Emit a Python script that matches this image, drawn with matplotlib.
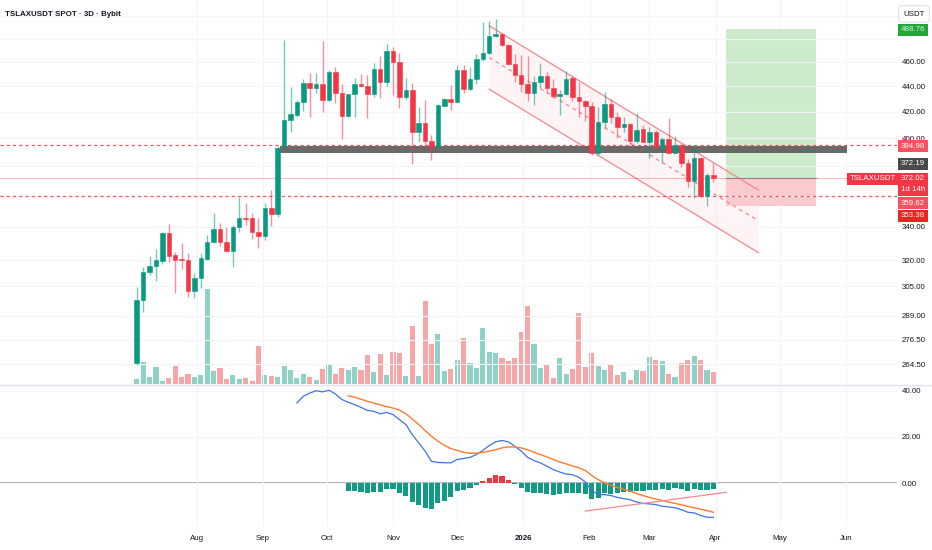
import numpy as np
import pandas as pd
import matplotlib
matplotlib.use('Agg')
import matplotlib.pyplot as plt
import matplotlib.dates as mdates
from matplotlib.ticker import FixedLocator, FixedFormatter, NullLocator
from matplotlib.transforms import blended_transform_factory
from matplotlib.lines import Line2D

plt.rcParams['font.family'] = 'Liberation Sans'

#%% data (3D candles, TSLAXUSDT spot)
start_date = '2025-07-04'

opens = [264.9, 297.2, 313.0, 316.4, 319.4, 336.1, 322.9, 320.5, 320.1, 302.4,
         309.8, 320.7, 330.7, 338.9, 330.5, 325.5, 340.2, 345.9, 345.9, 336.7,
         334.4, 352.3, 348.2, 394.6, 413.5, 417.5, 427.8, 442.7, 438.8, 441.5,
         429.1, 452.0, 434.8, 416.7, 433.8, 441.5, 440.1, 433.8, 453.9, 443.2,
         469.7, 460.3, 431.2, 437.0, 404.9, 411.2, 398.3, 394.3, 424.6, 429.6,
         427.3, 453.3, 437.8, 445.7, 462.5, 467.4, 482.5, 484.3, 474.6, 458.4,
         449.2, 441.7, 434.4, 443.7, 448.4, 438.4, 432.2, 433.6, 446.4, 431.7,
         428.5, 424.4, 389.6, 412.4, 425.7, 415.7, 408.6, 410.6, 398.3, 406.6,
         397.6, 404.9, 393.5, 399.5, 389.6, 395.1, 382.1, 370.1, 385.6, 359.8,
         374.0]
highs = [304.4, 315.8, 322.3, 326.6, 336.7, 341.8, 324.9, 329.9, 323.9, 312.6,
         324.4, 335.2, 348.6, 342.3, 340.2, 341.3, 359.3, 355.1, 349.1, 345.5,
         355.1, 363.8, 394.3, 479.0, 439.6, 429.1, 445.6, 450.6, 451.2, 478.4,
         453.3, 455.6, 441.7, 434.0, 446.4, 450.0, 449.2, 458.9, 465.1, 475.5,
         472.6, 468.0, 446.4, 442.7, 423.4, 429.1, 402.4, 425.7, 430.4, 441.0,
         457.3, 457.3, 455.6, 466.5, 494.8, 495.4, 497.6, 485.0, 475.0, 466.5,
         466.0, 465.0, 448.4, 458.9, 452.0, 445.7, 437.0, 452.8, 448.4, 443.7,
         429.0, 427.8, 423.9, 435.6, 429.6, 420.0, 416.2, 411.0, 419.2, 409.9,
         408.6, 406.0, 401.2, 414.9, 401.7, 396.0, 384.9, 395.1, 386.3, 375.0,
         382.5]
lows = [264.0, 291.1, 311.3, 307.9, 317.7, 319.1, 301.4, 315.0, 299.2, 298.3,
        303.8, 320.0, 330.0, 328.4, 325.0, 315.8, 337.0, 341.3, 332.6, 327.4,
        332.0, 340.9, 346.5, 394.0, 404.9, 416.2, 420.8, 415.7, 434.8, 420.0,
        428.0, 426.5, 399.3, 416.0, 415.7, 439.0, 414.9, 431.2, 430.4, 440.1,
        433.0, 422.6, 429.1, 381.6, 397.6, 392.7, 384.4, 393.0, 424.0, 421.3,
        427.0, 434.8, 437.0, 441.7, 461.0, 467.0, 481.9, 473.7, 457.6, 443.7,
        435.6, 428.5, 425.2, 438.4, 434.8, 431.0, 417.5, 433.0, 428.5, 415.7,
        413.2, 388.0, 388.0, 407.4, 411.7, 400.1, 404.9, 395.1, 396.4, 397.0,
        385.6, 392.7, 382.1, 389.0, 389.0, 379.3, 365.6, 358.3, 358.9, 353.4,
        369.4]
closes = [297.4, 313.0, 316.6, 319.9, 336.1, 322.6, 320.1, 319.8, 302.4, 309.8,
          321.1, 330.7, 338.9, 330.5, 325.5, 340.2, 345.9, 345.0, 336.7, 334.4,
          352.3, 348.2, 392.6, 413.5, 418.0, 427.8, 442.7, 438.8, 441.5, 429.1,
          452.0, 434.8, 416.7, 433.8, 441.5, 440.1, 433.8, 453.9, 443.2, 469.7,
          460.3, 431.2, 437.0, 404.9, 411.2, 398.3, 394.0, 425.2, 429.6, 427.5,
          453.3, 437.8, 445.7, 462.5, 467.4, 482.5, 484.3, 474.6, 458.4, 449.2,
          441.7, 434.4, 443.7, 448.4, 438.4, 432.2, 433.6, 445.7, 431.7, 428.5,
          424.4, 389.6, 412.4, 425.7, 415.7, 408.1, 410.4, 398.3, 406.1, 397.6,
          404.9, 393.5, 399.5, 389.6, 395.1, 382.1, 370.1, 385.6, 359.8, 374.0,
          372.0]
# volume in thousands
volume = [50, 217, 73, 173, 33, 60, 183, 67, 97, 73,
          90, 950, 130, 163, 50, 90, 53, 63, 30, 383,
          90, 83, 70, 180, 143, 63, 97, 70, 43, 153,
          200, 103, 163, 143, 170, 143, 287, 123, 303, 90,
          323, 310, 77, 580, 83, 833, 400, 500, 133, 150,
          243, 460, 213, 163, 560, 323, 307, 260, 233, 260,
          517, 783, 403, 160, 200, 57, 260, 103, 150, 713,
          170, 313, 180, 137, 193, 90, 123, 43, 143, 133,
          267, 240, 230, 103, 73, 213, 240, 280, 240, 143,
          120]

# MACD (12, 26, 9): line starts at bar 26, signal and histogram at bar 34
macd_line = [34.7, 37.6, 39.0, 40.0, 39.5, 40.2, 38.6, 36.2, 35.0, 34.0,
             32.8, 31.5, 31.1, 30.0, 30.6, 29.7, 27.5, 25.4, 21.0, 17.5,
             13.9, 9.5, 9.0, 8.9, 8.8, 10.3, 10.7, 11.2, 12.4, 14.2,
             16.3, 17.9, 18.5, 17.9, 16.0, 13.9, 11.2, 9.8, 8.8, 7.4,
             5.9, 4.9, 4.0, 3.7, 2.6, 0.6, -3.1, -4.9, -4.9, -5.3,
             -6.1, -6.6, -7.1, -8.1, -8.7, -8.9, -9.2, -9.9, -10.2, -10.6,
             -11.4, -12.5, -12.8, -13.9, -14.7, -14.7]
signal_line = [37.8, 37.2, 36.3, 35.4, 34.7, 33.9, 33.1, 32.5, 31.6, 30.0,
               27.8, 25.4, 22.8, 20.3, 18.2, 16.4, 15.0, 14.2, 13.4, 13.0,
               13.0, 13.3, 13.9, 14.5, 15.3, 15.7, 15.7, 15.3, 14.5, 13.4,
               12.4, 11.4, 10.3, 9.2, 8.4, 7.5, 6.7, 5.5, 3.4, 1.6,
               0.2, -0.9, -1.8, -2.6, -3.4, -4.4, -5.3, -6.1, -6.8, -7.4,
               -8.1, -8.7, -9.3, -10.0, -10.6, -11.2, -11.8, -12.5]
histogram = [-3.4, -3.4, -3.6, -4.3, -3.6, -3.9, -2.3, -2.5, -4.4, -5.3,
             -8.1, -9.3, -10.6, -11.2, -8.7, -7.8, -6.1, -3.4, -3.0, -2.1,
             -0.6, 0.9, 2.3, 3.4, 3.3, 1.5, -0.3, -2.1, -3.9, -4.1,
             -4.1, -4.6, -4.9, -4.6, -4.3, -4.3, -4.1, -4.6, -6.6, -6.3,
             -4.3, -4.7, -4.1, -3.6, -3.7, -3.4, -3.4, -2.9, -3.0, -2.5,
             -2.8, -2.1, -2.6, -3.4, -2.3, -3.1, -2.8, -2.6]

# drawings on the chart
dashed_levels = [394.98, 359.62]
last_price = 372.02
zone_dates = ['2025-09-09 00:00', '2026-06-01 12:00']
zone_low, zone_high = 389.6, 394.4
channel_dates = ['2025-12-16 00:00', '2026-04-21 00:00']
channel_upper = [491.5, 363.8]
channel_mid = [463.7, 343.9]
channel_lower = [437.6, 324.4]
position_dates = ['2026-04-05 16:00', '2026-05-18 00:00']
entry_price, target_price, stop_price = 372.19, 488.76, 353.38
macd_trend_dates = ['2026-01-30 00:00', '2026-04-06 00:00']
macd_trend_vals = [-12.0, -3.9]

price_ticks = [500, 480, 460, 440, 420, 400, 380, 360, 340, 320, 305, 289, 276.5, 264.5]
price_tick_labels = ['', '', '460.00', '440.00', '420.00', '400.00', '', '', '340.00',
                     '320.00', '305.00', '289.00', '276.50', '264.50']
macd_ticks = [40, 20, 0]
macd_tick_labels = ['40.00', '20.00', '0.00']
month_dates = ['2025-08-01', '2025-09-01', '2025-10-01', '2025-11-01', '2025-12-01',
               '2026-01-01', '2026-02-01', '2026-03-01', '2026-04-01', '2026-05-01',
               '2026-06-01']
month_labels = ['Aug', 'Sep', 'Oct', 'Nov', 'Dec', '2026', 'Feb', 'Mar', 'Apr', 'May', 'Jun']
x_range = ['2025-05-01 00:00', '2026-06-24 22:00']

#%% setup
W, H = 932, 550
fs = 5.7
txt_col = '#131722'
grid_col = '#f3f4f8'
green, red = '#089981', '#f23645'


def to_x(lst):
    return mdates.date2num(pd.to_datetime(lst, format='mixed'))


dates = pd.date_range(start_date, periods=len(opens), freq='3D')
x = mdates.date2num(dates)
o = np.array(opens); c = np.array(closes)
up = c >= o
cols = np.where(up, green, red)
month_x = to_x(month_dates)
xlim = to_x(x_range)

fig = plt.figure(figsize=(W / 100, H / 100), dpi=100)
rect_price = [0, (H - 384) / H, 897 / W, 384 / H]
rect_macd = [0, (H - 527) / H, 897 / W, (527 - 385) / H]

# volume pane (under the price pane)
axv = fig.add_axes(rect_price, zorder=1)
axv.bar(x, volume, width=2.4, color=np.where(up, '#8ed1c6', '#f7a5a7'), lw=0)
axv.set_ylim(0, 3840)
axv.set_xlim(*xlim)
axv.set_xticks(month_x)
axv.grid(axis='x', color=grid_col, lw=0.8)
axv.tick_params(length=0, labelbottom=False, labelleft=False)
for s in axv.spines.values():
    s.set_visible(False)

# price pane
ax = fig.add_axes(rect_price, zorder=2)
ax.patch.set_visible(False)
ax.set_yscale('log')
ax.set_xlim(*xlim)
ax.set_ylim(255.0, 515.3)
ax.yaxis.set_major_locator(FixedLocator(price_ticks))
ax.yaxis.set_major_formatter(FixedFormatter(price_tick_labels))
ax.yaxis.set_minor_locator(NullLocator())
ax.yaxis.tick_right()
ax.set_xticks(month_x)
ax.tick_params(axis='x', length=0, labelbottom=False)
ax.tick_params(axis='y', length=0, pad=3.6, labelsize=fs, labelcolor=txt_col)
ax.grid(axis='y', color=grid_col, lw=0.8, zorder=0)
for s in ax.spines.values():
    s.set_visible(False)

# channel
cx = to_x(channel_dates)
ax.fill_between(cx, channel_lower, channel_upper, color=red, alpha=0.05, lw=0, zorder=1)
ax.plot(cx, channel_upper, color='#f7868e', lw=0.9, zorder=2)
ax.plot(cx, channel_lower, color='#f7868e', lw=0.9, zorder=2)
ax.plot(cx, channel_mid, color='#f7868e', lw=0.9, ls=(0, (3, 3)), zorder=2)

# long position
px = to_x(position_dates)
ax.fill_between(px, entry_price, target_price, color='#cdeacb', lw=0, zorder=1)
ax.fill_between(px, stop_price, entry_price, color='#f9cbce', lw=0, zorder=1)
ax.plot(px, [entry_price] * 2, color='#8c8f99', lw=0.8, zorder=2)

# support zone
ax.fill_between(to_x(zone_dates), zone_low, zone_high, color='#5a5a5a', alpha=0.9, lw=0, zorder=2)

# horizontal levels
for lvl in dashed_levels:
    ax.axhline(lvl, color='#f7525f', lw=0.9, ls=(0, (2.5, 2.5)), zorder=3)
ax.axhline(last_price, color=red, alpha=0.35, lw=0.7, zorder=3)

# candles
ax.vlines(x, lows, highs, colors=cols, lw=1, alpha=0.55, zorder=4)
ax.bar(x, c - o, bottom=o, width=2.1, color=cols, edgecolor=cols, lw=0.4, zorder=5)

# price scale labels
trans = blended_transform_factory(ax.transAxes, ax.transData)
lab_x = 901 / 897


def price_label(txt, price, dy, bg, fg='white'):
    ax.annotate(txt, xy=(lab_x, price), xycoords=trans, xytext=(0, dy),
                textcoords='offset pixels', ha='left', va='center', fontsize=fs,
                color=fg, annotation_clip=False, zorder=10,
                bbox=dict(boxstyle='square,pad=0.32', fc=bg, ec='none'))


price_label('488.76', target_price, -1, '#22a63a', '#d9f2dc')
price_label('394.98', dashed_levels[0], -1, '#f7525f')
price_label('372.19', entry_price, 13.6, '#4a4a4a')
price_label('372.02', last_price, -1, red)
price_label('1d 14h', last_price, -12, red)
price_label('359.62', dashed_levels[1], -6.7, '#f7525f')
price_label('353.38', stop_price, -10, '#f81f1f')
ax.annotate('TSLAXUSDT', xy=(896 / 897, last_price), xycoords=trans, xytext=(0, -1),
            textcoords='offset pixels', ha='right', va='center', fontsize=fs,
            color='white', annotation_clip=False, zorder=10,
            bbox=dict(boxstyle='square,pad=0.32', fc=red, ec='none'))

# MACD pane
axm = fig.add_axes(rect_macd)
axm.set_xlim(*xlim)
axm.set_ylim(-18.88, 42.46)
hcol = np.where(np.array(histogram) < 0, '#129a84', red)
axm.bar(x[33:], histogram, width=2.4, color=hcol, lw=0, zorder=2)
axm.axhline(0, color='#a3a6af', lw=1.2, zorder=1)
axm.plot(x[25:], macd_line, color='#3d73e6', lw=0.9, zorder=3)
axm.plot(x[33:], signal_line, color='#ff7a2e', lw=1.0, zorder=3)
axm.plot(to_x(macd_trend_dates), macd_trend_vals, color='#f7868e', lw=0.9, zorder=3)
axm.set_yticks(macd_ticks)
axm.set_yticklabels(macd_tick_labels)
axm.yaxis.tick_right()
axm.set_xticks(month_x)
axm.set_xticklabels(month_labels)
axm.tick_params(length=0, labelsize=fs, labelcolor=txt_col)
axm.tick_params(axis='y', pad=3.6)
axm.tick_params(axis='x', pad=6)
axm.get_xticklabels()[5].set_fontweight('bold')
axm.grid(color=grid_col, lw=0.8, zorder=0)
for s in axm.spines.values():
    s.set_visible(False)

# pane separator, title, currency box
sep_y = 1 - 384.5 / H
fig.add_artist(Line2D([0, 1], [sep_y, sep_y], color='#e0e3eb', lw=1))
fig.text(5 / W, 1 - 14 / H, 'TSLAXUSDT SPOT · 3D · Bybit', fontsize=5.7,
         fontweight='bold', color=txt_col, ha='left', va='center')
fig.text(914 / W, 1 - 14 / H, 'USDT', fontsize=fs, color=txt_col, ha='center', va='center',
         bbox=dict(boxstyle='round,pad=0.6,rounding_size=0.4', fc='white', ec='#e0e3eb', lw=0.8))

fig.savefig('out.png', dpi=100)
